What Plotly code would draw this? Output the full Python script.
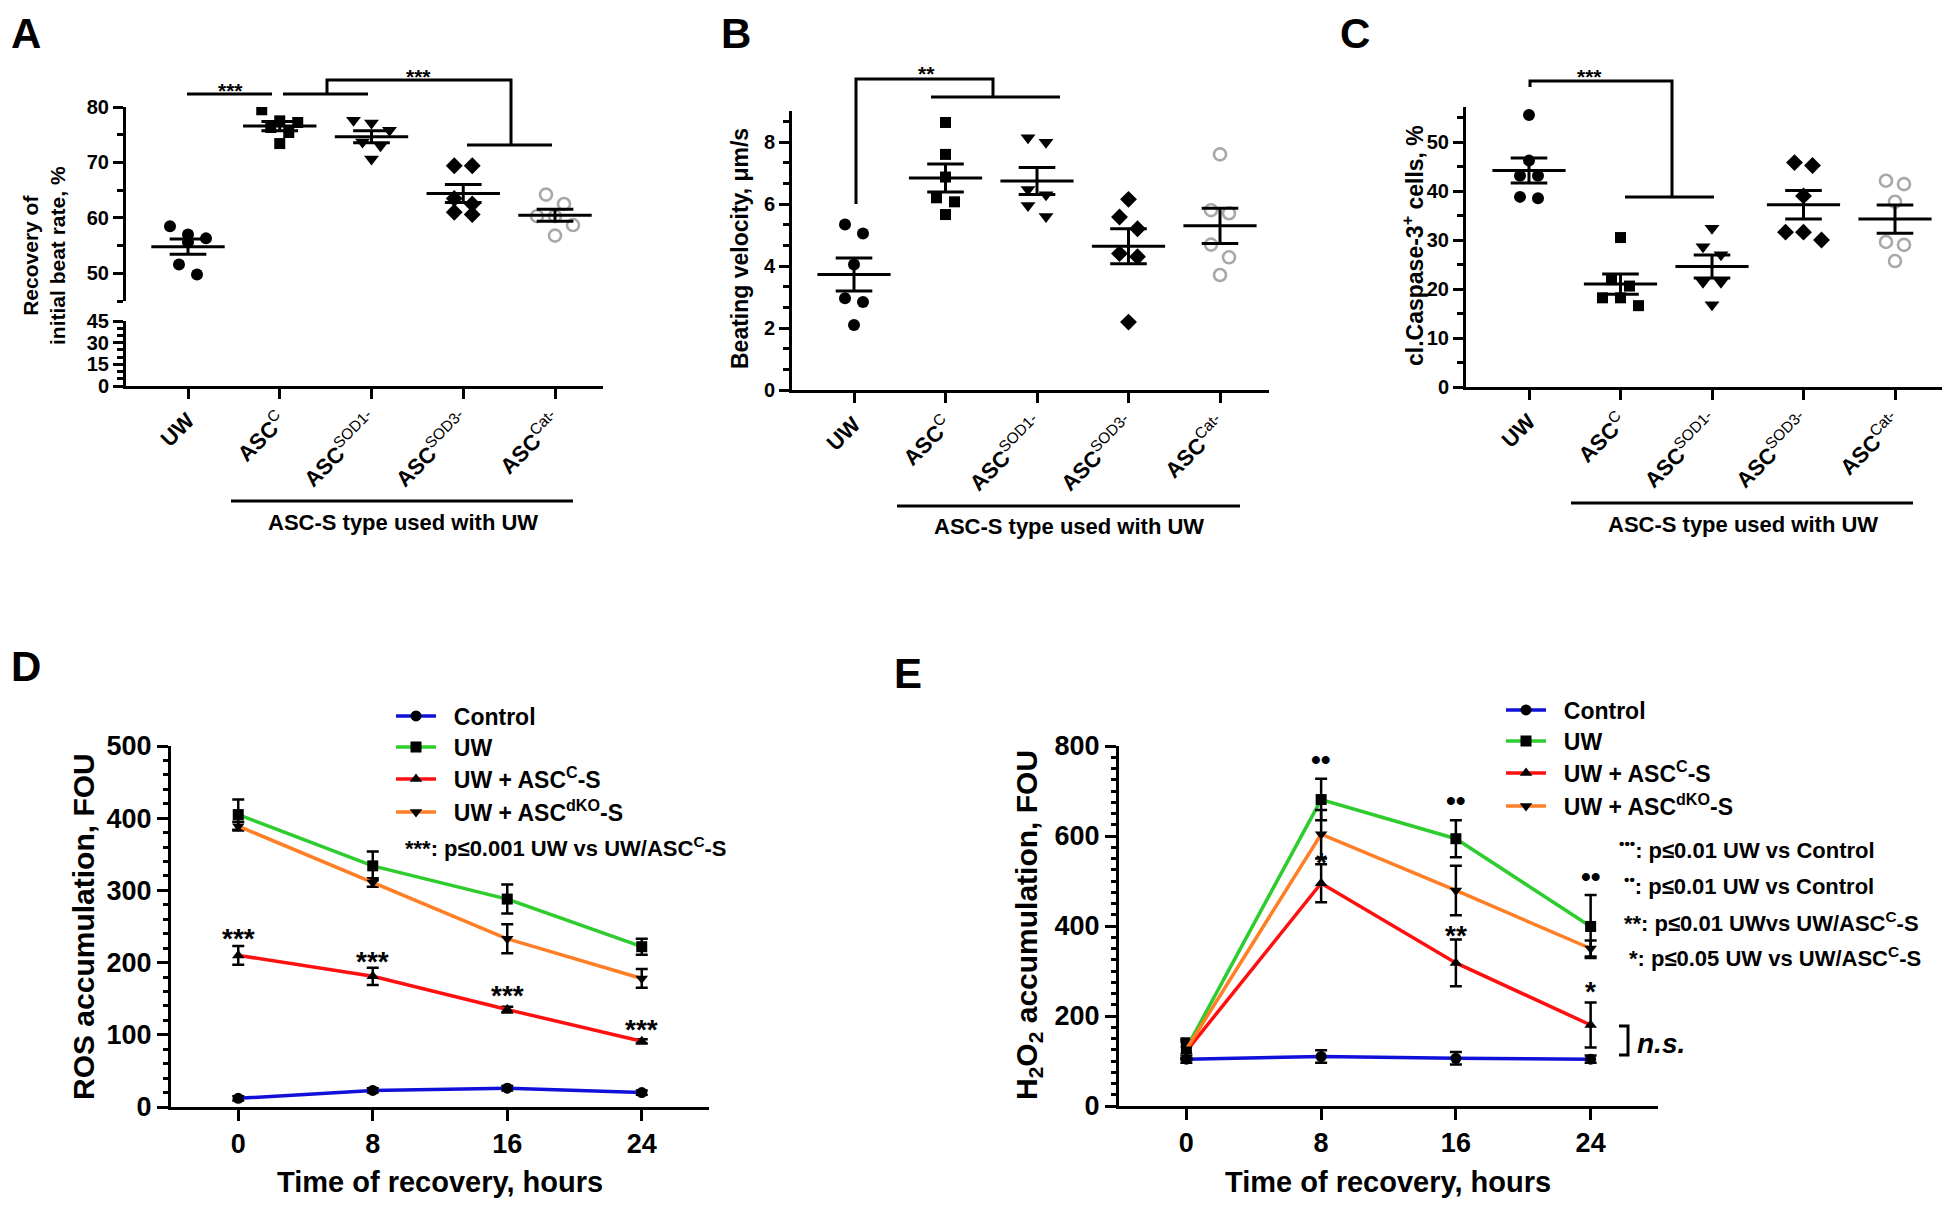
import numpy as np
import plotly.graph_objects as go

# ---------------- data ----------------
group_ticks = ["<b>UW</b>", "<b>ASC</b><sup>C</sup>", "<b>ASC</b><sup>SOD1-</sup>",
               "<b>ASC</b><sup>SOD3-</sup>", "<b>ASC</b><sup>Cat-</sup>"]

# Panel A: recovery of initial beat rate, %
A_UW = [58.5, 56.3, 55.6, 57.0, 49.8, 51.6]
A_ASCC = [77.5, 76.3, 77.2, 75.4, 79.5, 73.4]
A_SOD1 = [77.1, 75.8, 77.6, 73.0, 73.7, 70.6]
A_SOD3 = [69.4, 69.4, 62.5, 63.5, 60.6, 61.0]
A_CAT = [64.2, 62.5, 60.3, 58.7, 56.8, 60.3]

# Panel B: beating velocity, um/s
B_UW = [5.34, 5.05, 4.05, 2.96, 2.84, 2.10]
B_ASCC = [8.63, 7.60, 6.87, 6.20, 6.07, 5.66]
B_SOD1 = [7.99, 8.14, 6.47, 6.30, 5.95, 5.60]
B_SOD3 = [6.15, 5.58, 5.20, 4.40, 4.30, 2.19]
B_CAT = [7.60, 5.80, 5.70, 4.69, 4.28, 3.71]

# Panel C: cl.Caspase-3+ cells, %
C_UW = [55.5, 46.2, 43.1, 43.1, 38.5, 38.8]
C_ASCC = [30.5, 21.9, 20.6, 18.2, 18.2, 16.6]
C_SOD1 = [32.4, 27.0, 28.6, 21.4, 21.4, 16.8]
C_SOD3 = [45.2, 45.8, 39.0, 31.6, 31.6, 30.0]
C_CAT = [42.1, 41.4, 37.8, 29.6, 29.0, 25.7]

# Panels D/E: time course
hours = [0, 8, 16, 24]
series_names = ["Control", "UW", "UW + ASC<sup>C</sup>-S", "UW + ASC<sup>dKO</sup>-S"]

D_control = [12, 23, 26, 20]
D_control_sem = [3, 3, 3, 3]
D_uw = [405, 334, 288, 222]
D_uw_sem = [21, 20, 20, 11]
D_ascc = [210, 181, 135, 91]
D_ascc_sem = [13, 12, 4, 3]
D_dko = [389, 311, 233, 178]
D_dko_sem = [6, 6, 20, 13]

E_control = [104, 110, 106, 104]
E_control_sem = [8, 14, 14, 8]
E_uw = [128, 681, 594, 399]
E_uw_sem = [22, 46, 41, 70]
E_ascc = [122, 495, 318, 180]
E_ascc_sem = [20, 42, 52, 50]
E_dko = [126, 604, 479, 350]
E_dko_sem = [20, 54, 55, 18]

# ---------------- style / layout helpers ----------------
PAGE_W, PAGE_H = 1950, 1205
OFF = 8                      # default body margin of the html page
W, H = PAGE_W - OFF, PAGE_H - OFF
FONT = "Liberation Sans, Arial, Helvetica, sans-serif"
BLUE, GREEN, RED, ORANGE, GRAY = "#1010d8", "#2ecc2e", "#ff1010", "#ff7f27", "#a8a8a8"
NBSP = "\u00a0"


def PX(x):
    """page pixel x -> paper fraction"""
    return (x - OFF) / W


def PY(y):
    """page pixel y -> paper fraction"""
    return 1 - (y - OFF) / H


def cat_range(left_px, right_px, first_px, spacing):
    return [(left_px - first_px) / spacing, (right_px - first_px) / spacing]


fig = go.Figure()

marker_styles = [
    dict(symbol="circle", size=12, color="black"),
    dict(symbol="square", size=11, color="black"),
    dict(symbol="triangle-down", size=13, color="black"),
    dict(symbol="diamond", size=13, color="black"),
    dict(symbol="circle-open", size=12, color=GRAY, line=dict(width=2.6, color=GRAY)),
]


def swarm_offsets(vals, px_per_unit, spacing_px, row_px=13, step_px=18):
    vals = np.asarray(vals, dtype=float)
    order = np.argsort(-vals)
    offs = np.zeros(len(vals))
    rows, cur = [], []
    for idx in order:
        if cur and abs(vals[cur[0]] - vals[idx]) * px_per_unit > row_px:
            rows.append(cur)
            cur = []
        cur.append(idx)
    if cur:
        rows.append(cur)
    for r in rows:
        n = len(r)
        for j, idx in enumerate(r):
            offs[idx] = (j - (n - 1) / 2) * step_px / spacing_px
    return offs


def add_scatter_panel(datasets, xa, ya, px_per_unit, spacing_px):
    for i, vals in enumerate(datasets):
        vals = np.asarray(vals, dtype=float)
        offs = swarm_offsets(vals, px_per_unit, spacing_px)
        fig.add_trace(go.Scatter(x=i + offs, y=vals, mode="markers", marker=marker_styles[i],
                                 xaxis=xa, yaxis=ya, showlegend=False, hoverinfo="skip"))
        m = vals.mean()
        s = vals.std(ddof=1) / np.sqrt(len(vals))
        lx = [i - 0.4, i + 0.4, None, i - 0.2, i + 0.2, None, i - 0.2, i + 0.2, None, i, i]
        ly = [m, m, None, m + s, m + s, None, m - s, m - s, None, m - s, m + s]
        fig.add_trace(go.Scatter(x=lx, y=ly, mode="lines", line=dict(color="black", width=3),
                                 xaxis=xa, yaxis=ya, showlegend=False, hoverinfo="skip"))


# Panel A (broken axis: upper 45-80, lower 0-45)
A_sp = (555 - 188) / 4
add_scatter_panel([A_UW, A_ASCC, A_SOD1, A_SOD3, A_CAT], "x", "y", (301 - 107) / 35, A_sp)
# empty trace so that the lower (0-45) segment subplot exists
fig.add_trace(go.Scatter(x=[], y=[], xaxis="x", yaxis="y2", showlegend=False, hoverinfo="skip"))
# Panel B
B_sp = (1220 - 854) / 4
add_scatter_panel([B_UW, B_ASCC, B_SOD1, B_SOD3, B_CAT], "x2", "y3", (390 - 142) / 8, B_sp)
# Panel C
C_sp = (1895 - 1529) / 4
add_scatter_panel([C_UW, C_ASCC, C_SOD1, C_SOD3, C_CAT], "x3", "y4", (387 - 142) / 50, C_sp)

# Panels D and E
line_colors = [BLUE, GREEN, RED, ORANGE]
line_symbols = ["circle", "square", "triangle-up", "triangle-down"]


def add_time_panel(series, sems, xa, ya, legends):
    for k, (vals, sem) in enumerate(zip(series, sems)):
        fig.add_trace(go.Scatter(
            x=hours, y=vals, mode="lines+markers", name=NBSP * 2 + series_names[k],
            line=dict(color=line_colors[k], width=3.5),
            marker=dict(symbol=line_symbols[k], size=11, color="black"),
            error_y=dict(type="data", array=sem, visible=True, color="black", thickness=2.5, width=6),
            xaxis=xa, yaxis=ya, legend=legends[k], showlegend=True, hoverinfo="skip"))


D_legends = ["legend", "legend3", "legend4", "legend5"]
E_legends = ["legend2", "legend6", "legend7", "legend8"]
add_time_panel([D_control, D_uw, D_ascc, D_dko], [D_control_sem, D_uw_sem, D_ascc_sem, D_dko_sem],
               "x4", "y5", D_legends)
add_time_panel([E_control, E_uw, E_ascc, E_dko], [E_control_sem, E_uw_sem, E_ascc_sem, E_dko_sem],
               "x5", "y6", E_legends)

# ---------------- axes ----------------
common = dict(showline=True, linewidth=3, linecolor="black", showgrid=False, zeroline=False,
              ticks="outside", tickwidth=3, tickcolor="black", mirror=False, fixedrange=True,
              automargin=False)
num_font = dict(family=FONT, size=20, color="black", weight="bold")
cat_font = dict(family=FONT, size=22, color="black")
big_font = dict(family=FONT, size=27, color="black", weight="bold")


def minor(dt, ln=6):
    return dict(dtick=dt, ticklen=ln, tickwidth=3, ticks="outside", tickcolor="black")


fig.update_layout(
    template="none",
    xaxis=dict(domain=[PX(126), PX(603)], range=cat_range(126, 603, 188, A_sp), anchor="y2",
               tickmode="array", tickvals=list(range(5)), ticktext=group_ticks, tickangle=-45,
               ticklen=10, tickfont=cat_font, **common),
    yaxis=dict(domain=[PY(301), PY(107)], range=[45, 80], anchor="x", tick0=0, dtick=10, ticklen=10,
               minor=minor(5), tickfont=num_font, **common),
    yaxis2=dict(domain=[PY(386), PY(321)], range=[0, 45], anchor="x", tick0=0, dtick=15, ticklen=10,
                minor=minor(5), tickfont=num_font, **common),
    xaxis2=dict(domain=[PX(792), PX(1269)], range=cat_range(792, 1269, 854, B_sp), anchor="y3",
                tickmode="array", tickvals=list(range(5)), ticktext=group_ticks, tickangle=-45,
                ticklen=10, tickfont=cat_font, **common),
    yaxis3=dict(domain=[PY(390), PY(111)], range=[0, (390 - 111) / ((390 - 142) / 8)], anchor="x2",
                tick0=0, dtick=2, ticklen=10, minor=minor(2 / 3), tickfont=num_font, **common),
    xaxis3=dict(domain=[PX(1466), PX(1943)], range=cat_range(1466, 1943, 1529, C_sp), anchor="y4",
                tickmode="array", tickvals=list(range(5)), ticktext=group_ticks, tickangle=-45,
                ticklen=10, tickfont=cat_font, **common),
    yaxis4=dict(domain=[PY(387), PY(107)], range=[0, (387 - 107) / ((387 - 142) / 50)], anchor="x3",
                tick0=0, dtick=10, ticklen=10, minor=minor(5), tickfont=num_font, **common),
    xaxis4=dict(domain=[PX(171), PX(709)], range=[-4, 28], anchor="y5", tickmode="array",
                tickvals=hours, ticklen=11, tickfont=big_font, **common),
    yaxis5=dict(domain=[PY(1107), PY(746)], range=[0, 500], anchor="x4", tick0=0, dtick=100, ticklen=11,
                minor=minor(20, 5), tickfont=big_font, **common),
    xaxis5=dict(domain=[PX(1119), PX(1658)], range=[-4, 28], anchor="y6", tickmode="array",
                tickvals=hours, ticklen=11, tickfont=big_font, **common),
    yaxis6=dict(domain=[PY(1106), PY(746)], range=[0, 800], anchor="x5", tick0=0, dtick=200, ticklen=11,
                minor=minor(25, 5), tickfont=big_font, **common),
)

legend_common = dict(xanchor="left", yanchor="middle", bgcolor="rgba(0,0,0,0)", borderwidth=0,
                     font=dict(family=FONT, size=23, color="black", weight="bold"),
                     itemwidth=40, tracegroupgap=0, itemclick=False, itemdoubleclick=False)
legend_layout = {}
for name, yc in zip(D_legends, [716, 747, 779, 812]):
    legend_layout[name] = dict(x=PX(391), y=PY(yc), **legend_common)
for name, yc in zip(E_legends, [710, 741, 773, 806]):
    legend_layout[name] = dict(x=PX(1501), y=PY(yc), **legend_common)
fig.update_layout(**legend_layout)

# ---------------- annotations & shapes ----------------
ann = []
shapes = []


def text(x, y, s, size, **kw):
    d = dict(x=PX(x), y=PY(y), xref="paper", yref="paper", text=s, showarrow=False,
             font=dict(family=FONT, size=size, color="black", weight=kw.pop("weight", "bold")),
             xanchor=kw.pop("xanchor", "center"), yanchor=kw.pop("yanchor", "middle"))
    d.update(kw)
    ann.append(d)


def seg(pts, width=3):
    path = "M " + " L ".join(f"{PX(x)},{PY(y)}" for x, y in pts)
    shapes.append(dict(type="path", path=path, xref="paper", yref="paper",
                       line=dict(color="black", width=width)))


# panel letters
text(9, 8, "A", 42, xanchor="left", yanchor="top")
text(736, 8, "B", 42, yanchor="top")
text(1355, 8, "C", 42, yanchor="top")
text(9, 666, "D", 42, xanchor="left")
text(908, 673, "E", 42)

# y-axis titles
text(44, 256, "Recovery of<br>initial beat rate, %", 21, textangle=-90)
text(740, 249, "Beating velocity, μm/s", 23, textangle=-90)
text(1413, 246, "cl.Caspase-3<sup>+</sup> cells, %", 23, textangle=-90)
text(83, 927, "ROS accumulation, FOU", 30, textangle=-90)
text(1028, 925, "H<sub>2</sub>O<sub>2</sub> accumulation, FOU", 30, textangle=-90)
text(440, 1182, "Time of recovery, hours", 29)
text(1388, 1182, "Time of recovery, hours", 29)

# "ASC-S type used with UW" group labels
for (x0, x1, yl), xc in zip([(231, 573, 501), (897, 1240, 506), (1571, 1913, 503)], [403, 1069, 1743]):
    seg([(x0, yl), (x1, yl)], 3)
    text(xc, yl + 21, "ASC-S type used with UW", 22)

# significance brackets A
seg([(187, 94), (272, 94)])
seg([(283, 94), (368, 94)])
seg([(327, 94), (327, 80), (511, 80), (511, 145)])
seg([(467, 145), (552, 145)])
text(230, 90, "***", 21)
text(418, 76, "***", 21)
# B
seg([(856, 204), (856, 79), (993, 79), (993, 97)])
seg([(931, 97), (1060, 97)])
text(926, 73, "**", 21)
# C
seg([(1530, 87), (1530, 81), (1672, 81), (1672, 197)])
seg([(1625, 197), (1714, 197)])
text(1589, 76, "***", 21)

# D annotations
D_star_y = [244, 212, 165, 118]
for hx, yv in zip(hours, D_star_y):
    ann.append(dict(x=hx, y=yv, xref="x4", yref="y5", text="***", showarrow=False, yshift=-8,
                    font=dict(family=FONT, size=28, color="black", weight="bold")))
text(403, 847, "***: p≤0.001 UW vs UW/ASC<sup>C</sup>-S", 22, xanchor="left")

# E annotations
for hx, yv in zip(hours[1:], [769, 680, 509]):
    ann.append(dict(x=hx, y=yv, xref="x5", yref="y6", text="••", showarrow=False,
                    font=dict(family=FONT, size=28, color="black", weight="bold")))
for hx, yv, s in zip(hours[1:], [558, 396, 273], ["*", "**", "*"]):
    ann.append(dict(x=hx, y=yv, xref="x5", yref="y6", text=s, showarrow=False, yshift=-8,
                    font=dict(family=FONT, size=28, color="black", weight="bold")))
ptexts = [(1617, 849, "<sup>•••</sup>: p≤0.01 UW vs Control"),
          (1622, 885, "<sup>••</sup>: p≤0.01 UW vs Control"),
          (1622, 922, "**: p≤0.01 UWvs UW/ASC<sup>C</sup>-S"),
          (1627, 957, "*: p≤0.05 UW vs UW/ASC<sup>C</sup>-S")]
for x, y, s in ptexts:
    text(x, y, s, 22, xanchor="left")
seg([(1619, 1026), (1628, 1026), (1628, 1055), (1619, 1055)])
ann.append(dict(x=PX(1635), y=PY(1043), xref="paper", yref="paper", text="<b><i>n.s.</i></b>",
                showarrow=False, xanchor="left", yanchor="middle",
                font=dict(family=FONT, size=28, color="black")))

fig.update_layout(
    annotations=ann, shapes=shapes,
    width=W, height=H, autosize=False,
    margin=dict(l=0, r=0, t=0, b=0, autoexpand=False),
    paper_bgcolor="white", plot_bgcolor="white",
    font=dict(family=FONT, color="black", size=20),
    showlegend=True,
)

fig.write_html("out.html")
